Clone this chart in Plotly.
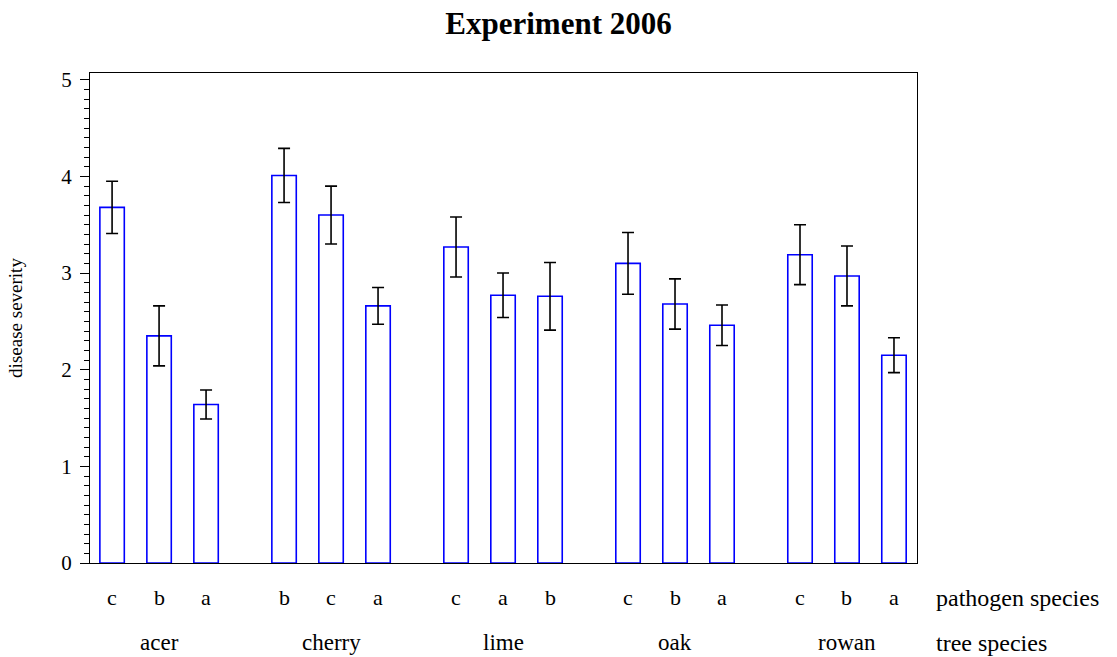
import plotly.graph_objects as go

# ---- data ----
trees = ["acer", "cherry", "lime", "oak", "rowan"]
pathogens = [["c", "b", "a"], ["b", "c", "a"], ["c", "a", "b"], ["c", "b", "a"], ["c", "b", "a"]]
severity = [[3.68, 2.35, 1.64], [4.01, 3.60, 2.66], [3.27, 2.77, 2.76], [3.10, 2.68, 2.46], [3.19, 2.97, 2.15]]
stderr = [[0.27, 0.31, 0.15], [0.28, 0.30, 0.19], [0.31, 0.23, 0.35], [0.32, 0.26, 0.21], [0.31, 0.31, 0.18]]

GROUP_STEP = 3.66
FONT = "Liberation Serif, Times New Roman, serif"

xs, ys, es, labels = [], [], [], []
for g, tree in enumerate(trees):
    for i in range(3):
        xs.append(g * GROUP_STEP + i)
        ys.append(severity[g][i])
        es.append(stderr[g][i])
        labels.append(pathogens[g][i])

fig = go.Figure()
fig.add_trace(go.Bar(
    x=xs, y=ys, width=0.52,
    marker=dict(color="white", line=dict(color="#0000FF", width=1.6)),
    error_y=dict(type="data", array=es, visible=True, color="black", thickness=1.6, width=6),
    showlegend=False, hoverinfo="skip",
))

annotations = []
for x, lab in zip(xs, labels):
    annotations.append(dict(x=x, y=-0.0714, xref="x", yref="paper", text=lab, showarrow=False,
                            xanchor="center", yanchor="middle", font=dict(family=FONT, size=22, color="black")))
for g, tree in enumerate(trees):
    annotations.append(dict(x=g * GROUP_STEP + 1, y=-0.163, xref="x", yref="paper", text=tree, showarrow=False,
                            xanchor="center", yanchor="middle", font=dict(family=FONT, size=23, color="black")))
annotations.append(dict(x=1.0206, y=-0.0714, xref="paper", yref="paper", text="pathogen species", showarrow=False,
                        xanchor="left", yanchor="middle", font=dict(family=FONT, size=24, color="black")))
annotations.append(dict(x=1.0206, y=-0.163, xref="paper", yref="paper", text="tree species", showarrow=False,
                        xanchor="left", yanchor="middle", font=dict(family=FONT, size=24, color="black")))

fig.update_layout(
    width=1117, height=657,
    margin=dict(l=90, r=200, t=73, b=94),
    paper_bgcolor="white", plot_bgcolor="white",
    title=dict(text="<b>Experiment 2006</b>", x=0.5, xanchor="center", xref="container",
               y=1 - 23 / 657, yanchor="middle", font=dict(family=FONT, size=31, color="black")),
    xaxis=dict(range=[-0.47, 4 * GROUP_STEP + 2.49], showline=True, linecolor="black", linewidth=1.2,
               mirror=True, showgrid=False, zeroline=False, ticks="", showticklabels=False),
    yaxis=dict(range=[0, 5.07], showline=True, linecolor="black", linewidth=1.2, mirror=True,
               showgrid=False, zeroline=False, ticks="outside", ticklen=9, tickwidth=1.2, tickcolor="black",
               tickvals=[0, 1, 2, 3, 4, 5], ticklabelstandoff=4,
               minor=dict(ticks="outside", ticklen=5, tickwidth=1, tickcolor="black", dtick=0.1, showgrid=False),
               tickfont=dict(family=FONT, size=21, color="black"),
               title=dict(text="disease severity", font=dict(family=FONT, size=19, color="black"), standoff=33)),
    annotations=annotations,
)

fig.write_html("out.html", config={"displayModeBar": False},
               post_script="document.body.style.margin='0';document.body.style.overflow='hidden';")
